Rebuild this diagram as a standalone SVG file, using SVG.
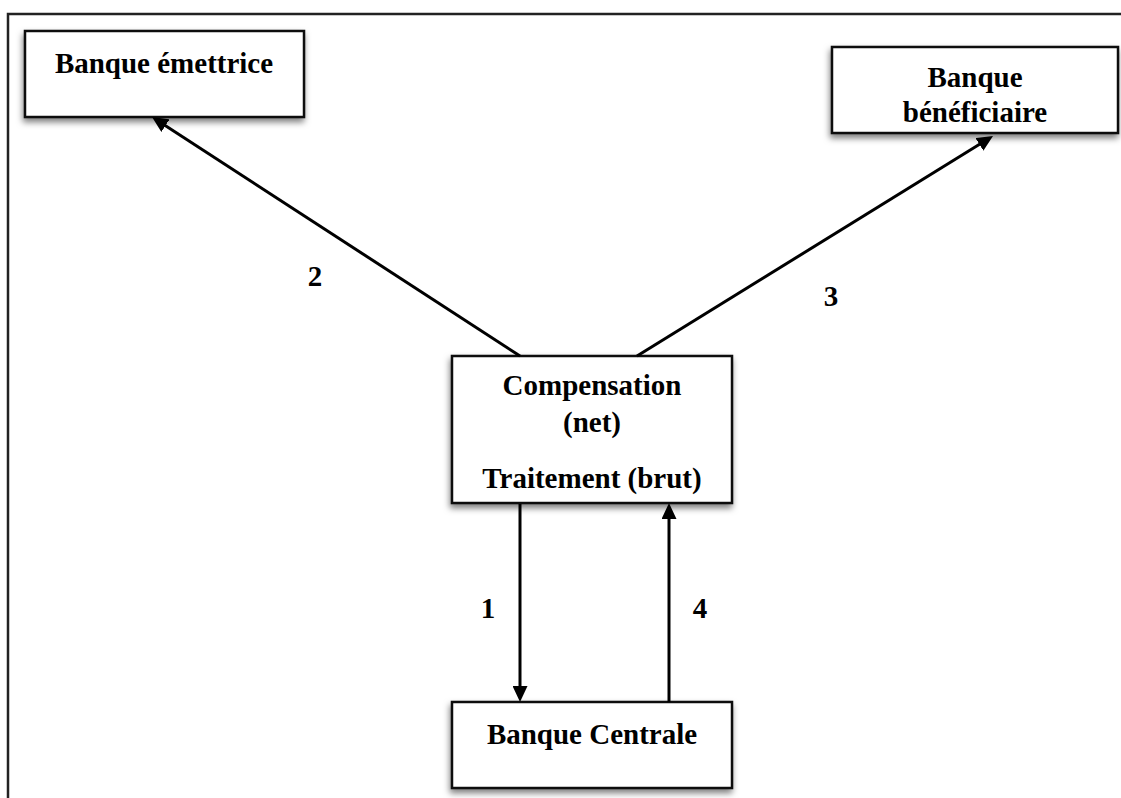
<svg xmlns="http://www.w3.org/2000/svg" width="1121" height="798" viewBox="0 0 1121 798">
<defs>
<filter id="sh" x="-10%" y="-20%" width="120%" height="150%">
<feDropShadow dx="-1" dy="4" stdDeviation="3" flood-color="#000" flood-opacity="0.5"/>
</filter>
<marker id="ah" viewBox="0 0 16 15" refX="4" refY="7.5" markerWidth="16" markerHeight="15" markerUnits="userSpaceOnUse" orient="auto">
<path d="M0,0 L16,7.5 L0,15 Z" fill="#000"/>
</marker>
<style>
.box{fill:#fff;stroke:#111;stroke-width:2.5;filter:url(#sh)}
.t{font-family:"Liberation Serif","Times New Roman",serif;font-weight:bold;font-size:29px;fill:#000;text-anchor:middle}
.c{fill:none;stroke:#000;stroke-width:3;marker-end:url(#ah)}
.frame{fill:none;stroke:#222;stroke-width:2.5}
</style>
</defs>
<rect width="1121" height="798" fill="#fff"/>
<path class="frame" d="M8,798 L8,14 L1121,14"/>
<g id="emettrice">
<rect class="box" x="25" y="31" width="279" height="86"/>
<text class="t" x="164" y="73">Banque émettrice</text>
</g>
<g id="beneficiaire">
<rect class="box" x="832" y="47" width="286" height="86"/>
<text class="t" x="975" y="87">Banque</text>
<text class="t" x="975" y="122">bénéficiaire</text>
</g>
<g id="compensation">
<rect class="box" x="452" y="356" width="280" height="147"/>
<text class="t" x="592" y="395">Compensation</text>
<text class="t" x="592" y="432">(net)</text>
<text class="t" x="592" y="488">Traitement (brut)</text>
</g>
<g id="centrale">
<rect class="box" x="452" y="702" width="280" height="86"/>
<text class="t" x="592" y="744">Banque Centrale</text>
</g>
<g id="connectors">
<path class="c" d="M520,356 L162.1,123.5"/>
<path class="c" d="M637,356 L982.8,142.3"/>
<path class="c" d="M520,504 L520,690"/>
<path class="c" d="M669,702 L669,515"/>
<text class="t" x="315" y="286">2</text>
<text class="t" x="831" y="306">3</text>
<text class="t" x="488" y="618">1</text>
<text class="t" x="700" y="618">4</text>
</g>
</svg>
